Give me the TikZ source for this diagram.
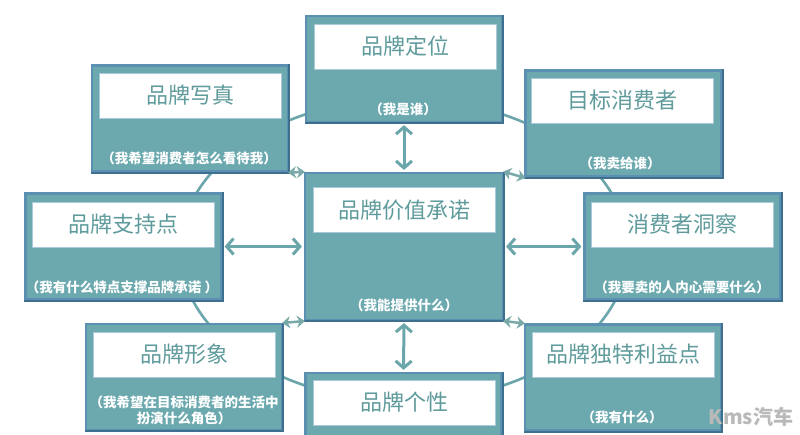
\documentclass[tikz,border=0pt]{standalone}
\usepackage{fontspec}
\newfontfamily\cjk{Noto Sans CJK SC}
\usetikzlibrary{arrows.meta,shapes.geometric}
\definecolor{boxfill}{HTML}{6BA9AF}
\definecolor{boxedge}{HTML}{5C90B2}
\definecolor{boxdark}{HTML}{3F6F8F}
\definecolor{paneledge}{HTML}{A9C8DA}
\definecolor{titlecol}{HTML}{5F9B9C}
\definecolor{linecol}{HTML}{6AA6AA}
\definecolor{minicol}{HTML}{78A8A8}
\tikzset{
  pbox/.style={draw=boxedge, fill=boxfill, line width=2.2pt, minimum width=196pt, minimum height=106pt, inner sep=0pt},
  panel/.style={fill=white, draw=paneledge, line width=0.8pt, minimum width=182pt, minimum height=45pt, inner sep=0pt},
  ttl/.style={font=\cjk\fontsize{22}{24}\selectfont, text=titlecol, inner sep=0pt},
  sub/.style={font=\cjk\bfseries\fontsize{13.5}{16}\selectfont, text=white, inner sep=0pt, align=center},
  ringst/.style={draw=linecol, ellipse, line width=2.6pt, minimum width=448pt, minimum height=302pt, inner sep=0pt},
  dbl/.style={draw=linecol, line width=3pt, {Straight Barb[length=7pt,width=16pt]}-{Straight Barb[length=7pt,width=16pt]}, shorten <=2pt, shorten >=2pt},
  mini/.style={draw=minicol, line width=2.5pt, {Stealth[length=8pt,width=12pt]}-{Stealth[length=8pt,width=12pt]}, shorten <=-1pt, shorten >=-1pt},
  shadeln/.style={draw=boxdark, line width=2.2pt},
  wm/.style={font=\cjk\bfseries\fontsize{20}{22}\selectfont, text=gray!55, inner sep=0pt}
}
\begin{document}
\begin{tikzpicture}[x=1pt,y=-1pt]
\useasboundingbox (0,0) rectangle (800,434);
\clip (0,0) rectangle (800,434);
\fill[white] (0,0) rectangle (800,434);
\node[ringst] (ring) at (404,250) {};
% boxes
\node[pbox] (pos) at (404,69) {};
\node[pbox] (xz) at (190,118.5) {};
\node[pbox] (zc) at (123.5,246.5) {};
\node[pbox, minimum height=147pt, minimum width=198pt] (core) at (404,246.5) {};
\node[pbox] (mb) at (623.5,123.5) {};
\node[pbox] (dc) at (682.5,246.5) {};
\node[pbox] (xx) at (184,377) {};
\node[pbox] (gx) at (403.5,426) {};
\node[pbox] (ly) at (623,377.5) {};
\foreach \n in {pos,xz,zc,core,mb,dc,xx,gx,ly}
  \draw[shadeln] (\n.north east) -- (\n.south east) -- (\n.south west);
% panels
\node[panel] (posp) at (405,46.5) {};
\node[panel] (xzp) at (190,95.5) {};
\node[panel] (zcp) at (123,224.5) {};
\node[panel] (corep) at (404,210) {};
\node[panel] (mbp) at (622.5,100.5) {};
\node[panel] (dcp) at (682.5,224.5) {};
\node[panel] (xxp) at (184,354.5) {};
\node[panel] (gxp) at (404,402.5) {};
\node[panel] (lyp) at (623.5,354.5) {};
% titles
\node[ttl] (post) at (posp) {品牌定位};
\node[ttl] (xzt) at (xzp) {品牌写真};
\node[ttl] (zct) at (zcp) {品牌支持点};
\node[ttl] (coret) at (corep) {品牌价值承诺};
\node[ttl] (mbt) at (mbp) {目标消费者};
\node[ttl] (dct) at (dcp) {消费者洞察};
\node[ttl] (xxt) at (xxp) {品牌形象};
\node[ttl] (gxt) at (gxp) {品牌个性};
\node[ttl] (lyt) at (lyp) {品牌独特利益点};
% subtitles
\node[sub] (poss) at (403,109) {（我是谁）};
\node[sub] (xzs) at (189,158) {（我希望消费者怎么看待我）};
\node[sub] (zcs) at (122,287) {（我有什么特点支撑品牌承诺 ）};
\node[sub] (cores) at (404,305) {（我能提供什么）};
\node[sub] (mbs) at (620,163) {（我卖给谁）};
\node[sub] (dcs) at (682,287) {（我要卖的人内心需要什么）};
\node[sub] (xxs) at (184,410) {（我希望在目标消费者的生活中\\扮演什么角色）};
\node[sub] (lys) at (622,417) {（我有什么）};
% arrows
\draw[dbl] (pos.south) -- (core.north);
\draw[dbl] (zc.east) -- (core.west);
\draw[dbl] (core.east) -- (dc.west);
\draw[dbl] (core.south) -- (gx.north);
% small corner arrows
\draw[mini] (xz.south east) -- (core.north west);
\draw[mini] (core.north east) -- (mb.south west);
\draw[mini] (xx.north east) -- (core.south west);
\draw[mini] (core.south east) -- (ly.north west);
% watermark
\node[wm] (wm) at (751,417) {Kms汽车};
\end{tikzpicture}
\end{document}
